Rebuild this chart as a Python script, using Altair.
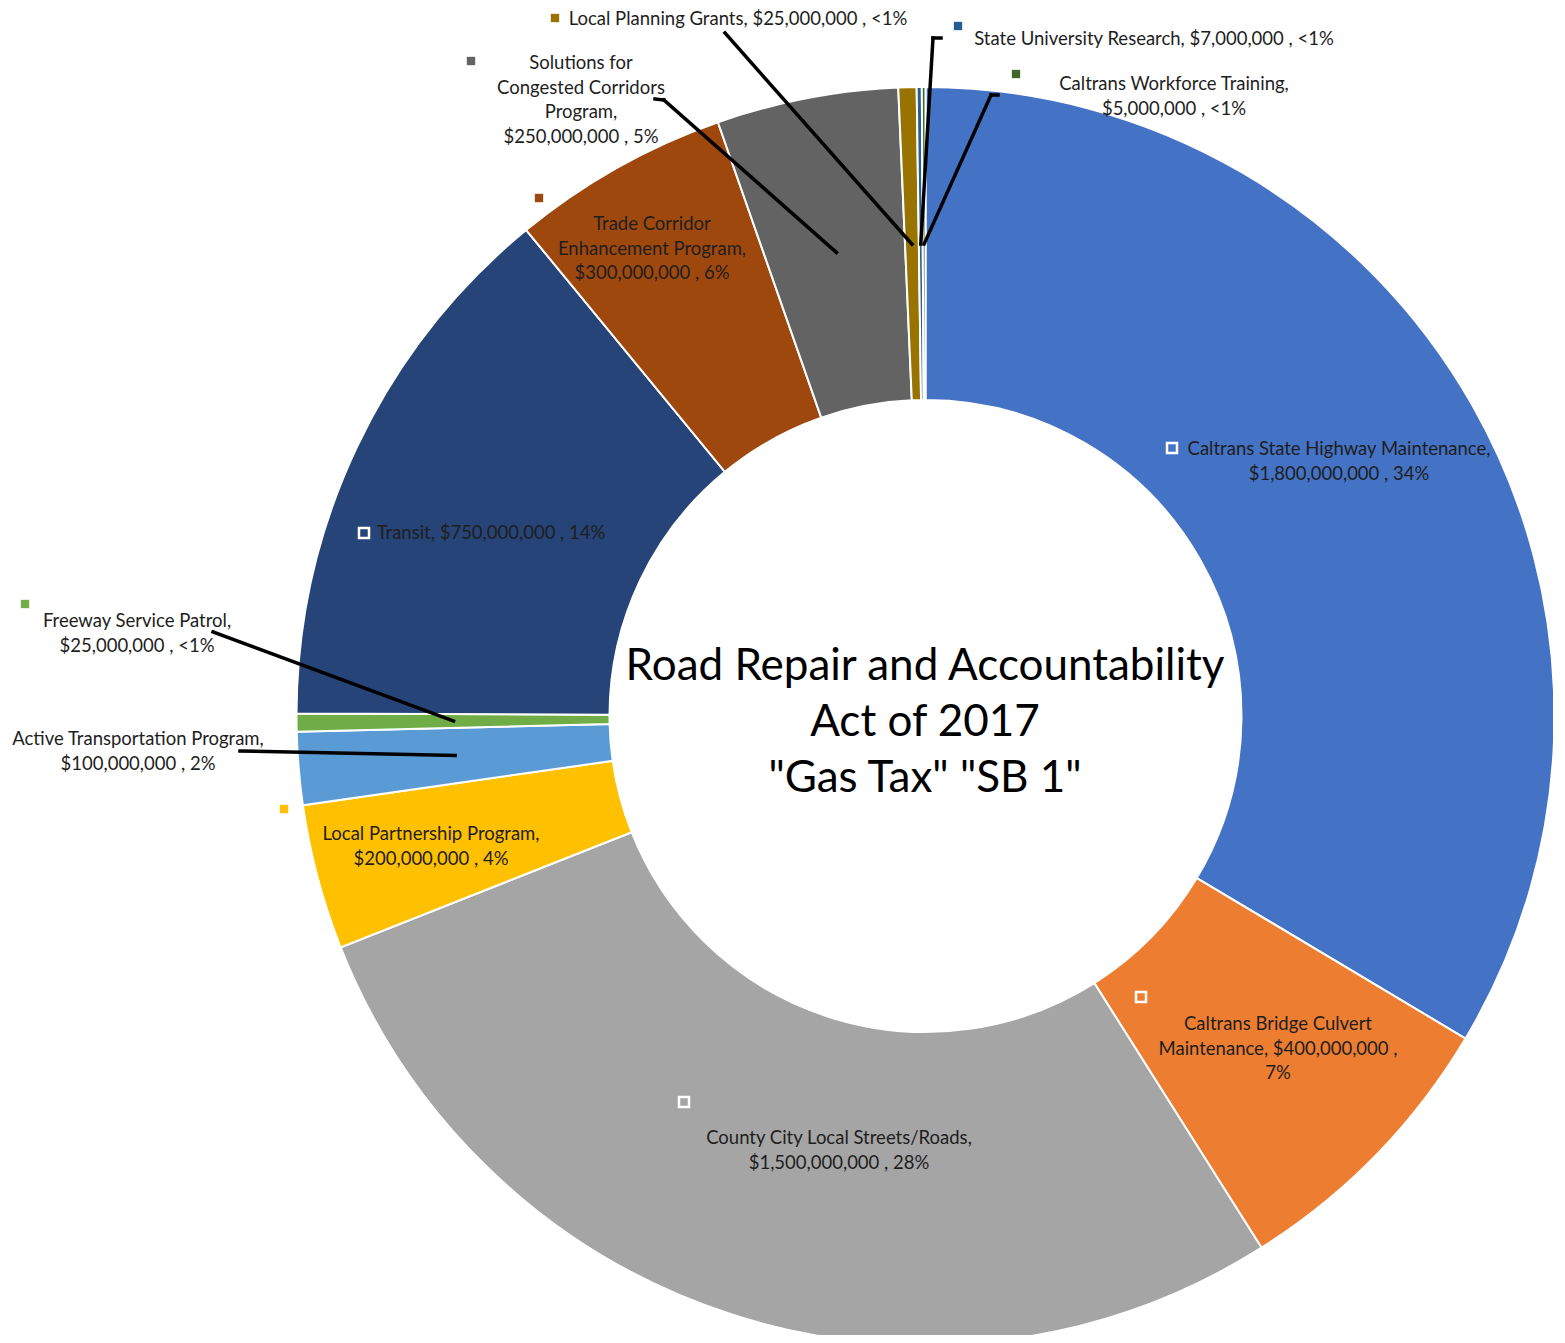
import altair as alt
import numpy as np
import pandas as pd

# ---------------- data ----------------
categories = [
    "Caltrans State Highway Maintenance",
    "Caltrans Bridge Culvert Maintenance",
    "County City Local Streets/Roads",
    "Local Partnership Program",
    "Active Transportation Program",
    "Freeway Service Patrol",
    "Transit",
    "Trade Corridor Enhancement Program",
    "Solutions for Congested Corridors Program",
    "Local Planning Grants",
    "State University Research",
    "Caltrans Workforce Training",
]
amounts = [1800000000, 400000000, 1500000000, 200000000, 100000000, 25000000,
           750000000, 300000000, 250000000, 25000000, 7000000, 5000000]
colors = ["#4472C4", "#ED7D31", "#A5A5A5", "#FFC000", "#5B9BD5", "#70AD47",
          "#264478", "#9E480E", "#636363", "#997300", "#255E91", "#43682B"]

# label text, broken into lines as in the original
label_lines = [
    ["Caltrans State Highway Maintenance,", "$1,800,000,000 , 34%"],
    ["Caltrans Bridge Culvert", "Maintenance, $400,000,000 ,", "7%"],
    ["County City Local Streets/Roads,", "$1,500,000,000 , 28%"],
    ["Local Partnership Program,", "$200,000,000 , 4%"],
    ["Active Transportation Program,", "$100,000,000 , 2%"],
    ["Freeway Service Patrol,", "$25,000,000 , <1%"],
    ["Transit, $750,000,000 , 14%"],
    ["Trade Corridor", "Enhancement Program,", "$300,000,000 , 6%"],
    ["Solutions for", "Congested Corridors", "Program,", "$250,000,000 , 5%"],
    ["Local Planning Grants, $25,000,000 , <1%"],
    ["State University Research, $7,000,000 ,  <1%"],
    ["Caltrans Workforce Training,", "$5,000,000 , <1%"],
]
title_lines = ["Road Repair and Accountability", "Act of 2017", "\"Gas Tax\" \"SB 1\""]

# ---------------- layout (page pixels) ----------------
W, H = 1545, 1327
M = 8
CX, CY = 925.5, 716.0
R_OUT, R_IN, R_LBL = 629, 316, 472
FONT = "Lato"
LINE_H = 24.5

# first-line centre of each label
label_pos = [(1339, 449), (1278, 1024), (839, 1138), (431, 834), (138, 739), (137, 621),
             (491, 533), (652, 224), (581, 63), (738, 19), (1154, 39), (1174, 84)]
# legend key of each label: (x, y, style) style: h = hollow (inside), f = filled, None
key_pos = [(1172, 448, "h"), (1141, 997, "h"), (684, 1102, "h"), (284, 809, "f"), None,
           (25, 604, "f"), (364, 533, "h"), (539, 198, "f"), (471, 61, "f"), (555, 18, "f"),
           (958, 26, "f"), (1016, 74, "f")]
# leader line start points (polyline up to slice)
leader_start = {
    4: [(240, 751)],
    5: [(213, 632)],
    8: [(655, 99), (664, 100)],
    9: [(725, 33)],
    10: [(941, 38), (933, 38)],
    11: [(998, 95), (991, 95)],
}
title_pos = (925, 667)
TITLE_LH = 56

# ---------------- derived ----------------
n = len(categories)
total = float(sum(amounts))
cum = np.concatenate([[0.0], np.cumsum(amounts)])
mid_angle = [(cum[i] + amounts[i] / 2.0) / total * 2 * np.pi for i in range(n)]

arc_df = pd.DataFrame({"category": categories, "amount": amounts, "idx": list(range(n))})

xs = alt.Scale(domain=[M, M + W], range=[0, W], zero=False, nice=False)
ys = alt.Scale(domain=[M, M + H], range=[0, H], zero=False, nice=False)
cscale = alt.Scale(domain=categories, range=colors)

# leader segments
segs = []
for i, pts in leader_start.items():
    ex = CX + R_LBL * np.sin(mid_angle[i])
    ey = CY - R_LBL * np.cos(mid_angle[i])
    poly = list(pts) + [(ex, ey)]
    for a, b in zip(poly[:-1], poly[1:]):
        segs.append({"x": a[0], "y": a[1], "x2": b[0], "y2": b[1]})
seg_df = pd.DataFrame(segs)

# text lines
rows = []
for i in range(n):
    x0, y0 = label_pos[i]
    for j, t in enumerate(label_lines[i]):
        rows.append({"x": x0, "y": y0 + j * LINE_H, "text": t})
text_df = pd.DataFrame(rows)

title_df = pd.DataFrame([{"x": title_pos[0], "y": title_pos[1] + j * TITLE_LH, "text": t}
                         for j, t in enumerate(title_lines)])

keys_f = pd.DataFrame([{"x": k[0], "y": k[1], "category": categories[i]}
                       for i, k in enumerate(key_pos) if k and k[2] == "f"])
keys_h = pd.DataFrame([{"x": k[0], "y": k[1], "category": categories[i]}
                       for i, k in enumerate(key_pos) if k and k[2] == "h"])

# ---------------- chart ----------------
arcs = alt.Chart(arc_df).mark_arc(radius=R_OUT, radius2=R_IN, stroke="white", strokeWidth=2).encode(
    theta=alt.Theta("amount:Q", stack=True),
    color=alt.Color("category:N", scale=cscale, legend=None),
    order=alt.Order("idx:Q"),
    x=alt.value(CX - M),
    y=alt.value(CY - M),
)

leaders = alt.Chart(seg_df).mark_rule(color="black", strokeWidth=3.5, strokeCap="square").encode(
    x=alt.X("x:Q", scale=xs, axis=None),
    y=alt.Y("y:Q", scale=ys, axis=None),
    x2="x2:Q",
    y2="y2:Q",
)

kf = alt.Chart(keys_f).mark_square(size=70, opacity=1).encode(
    x=alt.X("x:Q", scale=xs, axis=None),
    y=alt.Y("y:Q", scale=ys, axis=None),
    color=alt.Color("category:N", scale=cscale, legend=None),
)
kh = alt.Chart(keys_h).mark_square(size=100, opacity=1, stroke="white", strokeWidth=2.5).encode(
    x=alt.X("x:Q", scale=xs, axis=None),
    y=alt.Y("y:Q", scale=ys, axis=None),
    fill=alt.Fill("category:N", scale=cscale, legend=None),
)

labels = alt.Chart(text_df).mark_text(font=FONT, fontSize=18.5, color="#1e1e1e",
                                      align="center", baseline="middle").encode(
    x=alt.X("x:Q", scale=xs, axis=None),
    y=alt.Y("y:Q", scale=ys, axis=None),
    text="text:N",
)

title = alt.Chart(title_df).mark_text(font=FONT, fontSize=44, color="black",
                                      align="center", baseline="middle").encode(
    x=alt.X("x:Q", scale=xs, axis=None),
    y=alt.Y("y:Q", scale=ys, axis=None),
    text="text:N",
)

chart = alt.layer(arcs, leaders, kf, kh, labels, title).properties(
    width=W, height=H, autosize="none", padding=0, background="white"
).configure_view(strokeWidth=0)

chart.save("out.html", embed_options={"renderer": "svg", "actions": False})
